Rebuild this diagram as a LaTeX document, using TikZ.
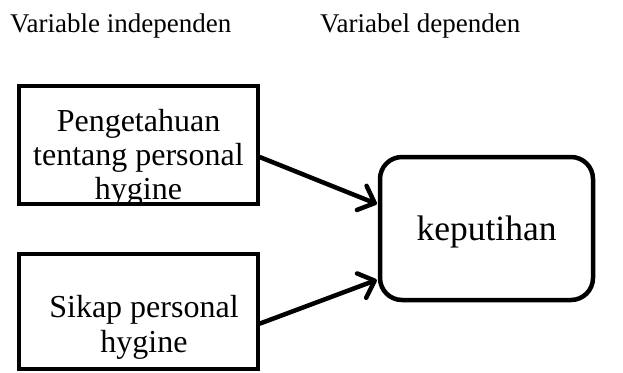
\documentclass[tikz,border=0pt]{standalone}
\usepackage{fontspec}
\setmainfont{Liberation Serif}
\usetikzlibrary{arrows.meta,calc}
\tikzset{
  title/.style={anchor=base west, inner sep=0pt, font=\fontsize{27}{30}\selectfont},
  varbox/.style={draw, line width=4.5pt, minimum width=239pt, inner sep=0pt},
  boxtext/.style={inner sep=0pt, align=center, font=\fontsize{32}{34}\selectfont},
  depbox/.style={draw, line width=4.5pt, rounded corners=22pt, minimum width=213pt, minimum height=143pt, inner sep=0pt},
  conn/.style={line width=4.5pt, line cap=round, -{Straight Barb[length=14pt,width=26pt,line cap=round,line join=round]}, shorten >=1pt}
}
\begin{document}
\begin{tikzpicture}[x=1pt,y=-1pt]
\useasboundingbox (0,0) rectangle (623,372);
\node[title] (tind) at (10,32) {Variable independen};
\node[title] (tdep) at (320,32) {Variabel dependen};
\node[varbox, minimum height=118pt] (b1) at (138.5,145) {};
\node[boxtext] (t1) at (138.5,157.5) {Pengetahuan\\tentang personal\\hygine};
\node[varbox, minimum height=115pt] (b2) at (138.5,311.5) {};
\node[boxtext, font=\fontsize{32}{35}\selectfont] (t2) at (144,327) {Sikap personal\\hygine};
\node[depbox] (k) at (486.5,228.5) {};
\node[anchor=base, inner sep=0pt, font=\fontsize{35.5}{38}\selectfont] (kt) at (486.5,240) {keputihan};
\draw[conn] ($(b1.north east)!0.6!(b1.south east)$) -- ($(k.north west)!0.336!(k.south west)$);
\draw[conn] ($(b2.north east)!0.6!(b2.south east)$) -- ($(k.north west)!0.846!(k.south west)$);
\end{tikzpicture}
\end{document}
